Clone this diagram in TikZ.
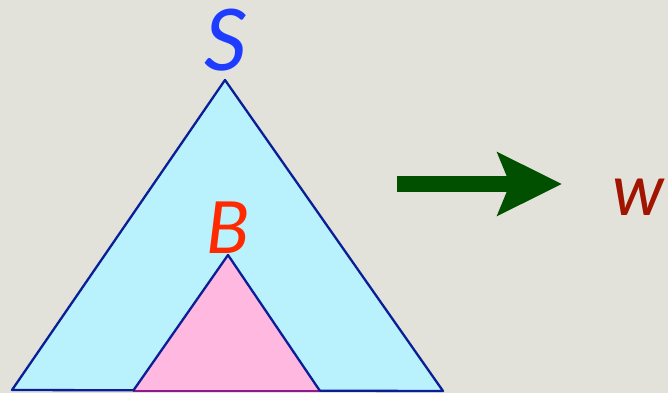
\documentclass[tikz,border=0pt]{standalone}
\usepackage{fontspec}
\setmainfont{Lato}
\usetikzlibrary{arrows.meta}
\definecolor{bg}{HTML}{E2E2DB}
\definecolor{cyanfill}{HTML}{B9F1FC}
\definecolor{edgeblue}{HTML}{0A1E96}
\definecolor{pinkfill}{HTML}{FFB9E1}
\definecolor{basepurple}{HTML}{8E1A8E}
\definecolor{sblue}{HTML}{1E3CFF}
\definecolor{bred}{HTML}{FF2A00}
\definecolor{wred}{HTML}{A01400}
\definecolor{arrowgreen}{HTML}{005000}
\tikzset{
  tri/.style={draw=edgeblue, line width=2.3pt, line join=round},
  lbl/.style={inner sep=0pt, anchor=base, font=\itshape},
  bigarrow/.style={draw=arrowgreen, line width=16pt, -{Stealth[length=64pt,width=62pt,inset=12pt]}}
}
\begin{document}
\begin{tikzpicture}[x=1pt,y=-1pt]
\fill[bg] (0,0) rectangle (668,393);
\useasboundingbox (0,0) rectangle (668,393);
% outer triangle
\coordinate (SA) at (225,80);
\coordinate (SL) at (12,390);
\coordinate (SR) at (443,391);
\filldraw[tri, fill=cyanfill] (SA) -- (SL) -- (SR) -- cycle;
% inner triangle
\coordinate (BA) at (228,255);
\coordinate (BL) at (133,391);
\coordinate (BR) at (320,391);
\fill[pinkfill] (BA) -- (BL) -- (BR) -- cycle;
\draw[basepurple, line width=2.6pt] (BL) -- (BR);
\draw[tri] (BL) -- (BA) -- (BR);
% labels
\node[lbl, text=sblue, font=\itshape\fontsize{85}{85}\selectfont] (S) at (226,71) {S};
\node[lbl, text=bred, font=\itshape\fontsize{72}{72}\selectfont] (B) at (228,253) {B};
\node[lbl, text=wred, font=\itshape\fontsize{72}{72}\selectfont] (w) at (639,215) {w};
% arrow
\coordinate (AS) at (397,184);
\coordinate (AE) at (562,184);
\draw[bigarrow] (AS) -- (AE);
\end{tikzpicture}
\end{document}
